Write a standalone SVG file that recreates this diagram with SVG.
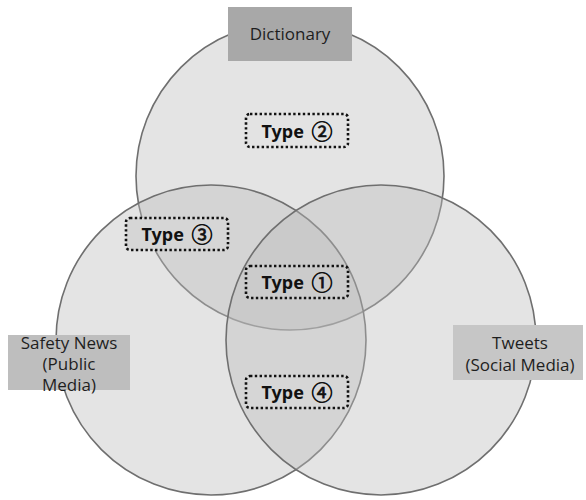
<svg xmlns="http://www.w3.org/2000/svg" width="586" height="500" viewBox="0 0 586 500">
<style>
.c{fill:#bcbcbc;fill-opacity:0.4;stroke:#6f6f6f;stroke-width:1.6}
.src{stroke:none}
.lbl{font-family:"Open Sans","Noto Sans","Liberation Sans",sans-serif;font-size:17px;fill:#1e1e1e;text-anchor:middle}
.typ{stroke:#111;stroke-width:2.6;stroke-dasharray:2.4 2.4;stroke-linecap:butt}
.tt{font-family:"Noto Sans","Open Sans","Liberation Sans",sans-serif;font-size:18px;font-weight:bold;fill:#111;text-anchor:end}
.num{font-family:"Noto Sans CJK KR","DejaVu Sans",sans-serif;font-size:21px;fill:#111;stroke:#111;stroke-width:0.7;text-anchor:middle}
</style>
<rect width="586" height="500" fill="#ffffff"/>
<g id="circles">
<circle id="circle-dictionary" class="c" cx="290" cy="176" r="154"/>
<circle id="circle-news" class="c" cx="211" cy="340" r="155"/>
<circle id="circle-tweets" class="c" cx="381" cy="340" r="155"/>
</g>
<g id="source-dictionary">
<rect class="src" x="228" y="7" width="124" height="54" fill="#a8a8a8"/>
<text class="lbl" x="290" y="40">Dictionary</text>
</g>
<g id="source-news">
<rect class="src" x="8" y="335" width="122" height="55" fill="#bebebe"/>
<text class="lbl" x="69" y="349">Safety News</text>
<text class="lbl" x="69" y="370">(Public</text>
<text class="lbl" x="69" y="391">Media)</text>
</g>
<g id="source-tweets">
<rect class="src" x="453" y="325" width="130" height="55" fill="#c6c6c6"/>
<text class="lbl" x="520" y="349">Tweets</text>
<text class="lbl" x="520" y="371">(Social Media)</text>
</g>
<g id="type2">
<rect class="typ" x="246" y="114" width="102" height="33" rx="4" fill="#e3e3e3"/>
<text class="tt" x="304" y="138">Type</text>
<text class="num" x="322" y="139">②</text>
</g>
<g id="type3">
<rect class="typ" x="126" y="218" width="102" height="32" rx="4" fill="#d6d6d6"/>
<text class="tt" x="184" y="241">Type</text>
<text class="num" x="202" y="242">③</text>
</g>
<g id="type1">
<rect class="typ" x="246" y="266" width="102" height="32" rx="4" fill="#cbcbcb"/>
<text class="tt" x="304" y="289">Type</text>
<text class="num" x="322" y="290">①</text>
</g>
<g id="type4">
<rect class="typ" x="246" y="376" width="102" height="32" rx="4" fill="#d6d6d6"/>
<text class="tt" x="304" y="399">Type</text>
<text class="num" x="322" y="400">④</text>
</g>
</svg>
